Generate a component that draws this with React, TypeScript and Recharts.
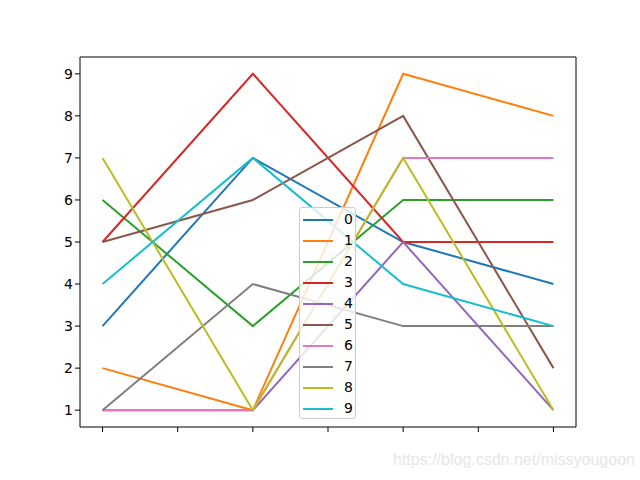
import React from 'react';
import { LineChart, Line, XAxis, YAxis, ReferenceArea } from 'recharts';

const xs = [0, 1, 2, 3];
const s0 = [3, 7, 5, 4];
const s1 = [2, 1, 9, 8];
const s2 = [6, 3, 6, 6];
const s3 = [5, 9, 5, 5];
const s4 = [1, 1, 5, 1];
const s5 = [5, 6, 8, 2];
const s6 = [1, 1, 7, 7];
const s7 = [1, 4, 3, 3];
const s8 = [7, 1, 7, 1];
const s9 = [4, 7, 4, 3];

const seriesNames = ['0', '1', '2', '3', '4', '5', '6', '7', '8', '9'];
const seriesValues = [s0, s1, s2, s3, s4, s5, s6, s7, s8, s9];
const colors = ['#1f77b4', '#ff7f0e', '#2ca02c', '#d62728', '#9467bd', '#8c564b', '#e377c2', '#7f7f7f', '#bcbd22', '#17becf'];

const xTicks = [0, 0.5, 1, 1.5, 2, 2.5, 3];
const yTicks = [1, 2, 3, 4, 5, 6, 7, 8, 9];

const data = xs.map((x, i) => {
  const row: Record<string, number> = { x };
  seriesNames.forEach((n, k) => { row['s' + n] = seriesValues[k][i]; });
  return row;
});

const font = 'DejaVu Sans, sans-serif';

const App: React.FC = () => {
  return (
    <div style={{ position: 'absolute', left: 0, top: 0, width: 640, height: 480, background: '#fff', fontFamily: font }}>
      <LineChart width={640} height={480} data={data} margin={{ top: 57, right: 64, bottom: 23, left: 50 }}>
        <XAxis
          dataKey="x"
          type="number"
          domain={[-0.15, 3.15]}
          ticks={xTicks}
          tickFormatter={() => ''}
          axisLine={false}
          tickLine={{ stroke: '#000', strokeWidth: 1 }}
          tickSize={5}
          height={30}
          allowDataOverflow
        />
        <YAxis
          type="number"
          domain={[0.6, 9.4]}
          ticks={yTicks}
          axisLine={false}
          tickLine={{ stroke: '#000', strokeWidth: 1 }}
          tickSize={5}
          width={30}
          tick={{ fill: '#000', fontSize: 14, fontFamily: font }}
          allowDataOverflow
        />
        <ReferenceArea x1={-0.15} x2={3.15} y1={0.6} y2={9.4} fill="none" stroke="#000" strokeWidth={1} ifOverflow="visible" />
        {seriesNames.map((n, k) => (
          <Line
            key={n}
            dataKey={'s' + n}
            name={n}
            type="linear"
            stroke={colors[k]}
            strokeWidth={2}
            dot={false}
            activeDot={false}
            isAnimationActive={false}
          />
        ))}
      </LineChart>

      <div
        style={{
          position: 'absolute',
          left: 299,
          top: 207,
          width: 57,
          height: 212,
          boxSizing: 'border-box',
          background: 'rgba(255,255,255,0.8)',
          border: '1px solid #cccccc',
          borderRadius: 3,
        }}
      >
        {seriesNames.map((n, k) => (
          <div key={n} style={{ position: 'absolute', left: 3, top: 1 + k * 21, height: 21, display: 'flex', alignItems: 'center' }}>
            <div style={{ width: 30, height: 2, background: colors[k] }} />
            <span style={{ marginLeft: 11, fontSize: 14, color: '#000', lineHeight: '21px' }}>{n}</span>
          </div>
        ))}
      </div>

      <div
        style={{
          position: 'absolute',
          left: 393,
          top: 451,
          fontFamily: 'Liberation Sans, Arial, sans-serif',
          fontSize: 16,
          color: '#e6e6e6',
          whiteSpace: 'nowrap',
        }}
      >
        https://blog.csdn.net/missyougoon
      </div>
    </div>
  );
};

export default App;
